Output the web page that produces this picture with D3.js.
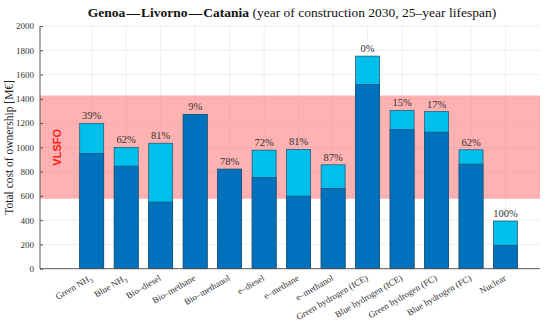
<!DOCTYPE html>
<html>
<head>
<meta charset="utf-8">
<script src="https://cdn.jsdelivr.net/npm/d3@7"></script>
<style>
  body { margin: 0; background: #fff; }
  svg text { font-family: "Liberation Serif", "DejaVu Serif", serif; }
</style>
</head>
<body>
<div id="chart"></div>
<script>
// fuels along the x axis (sub = subscript part of the label)
var categories = ["Green NH", "Blue NH", "Bio\u2013diesel", "Bio\u2013methane", "Bio\u2013methanol",
  "e\u2013diesel", "e\u2013methane", "e\u2013methanol", "Green hydrogen (ICE)", "Blue hydrogen (ICE)",
  "Green hydrogen (FC)", "Blue hydrogen (FC)", "Nuclear"];
var subscripts = ["3", "3", "", "", "", "", "", "", "", "", "", "", ""];

// lower (dark) part and total height of each bar, M€
var baseCost = [950, 845, 549, 1271, 820, 752, 598, 662, 1518, 1147, 1125, 862, 193];
var totalCost = [1197, 999, 1034, 1271, 820, 977, 983, 856, 1752, 1304, 1295, 980, 393];
var shareLabels = ["39%", "62%", "81%", "9%", "78%", "72%", "81%", "87%", "0%", "15%", "17%", "62%", "100%"];

// VLSFO reference band
var vlsfoBand = [576, 1427];
var yTicks = [0, 200, 400, 600, 800, 1000, 1200, 1400, 1600, 1800, 2000];

var W = 550, H = 322;
var margin = { top: 26, right: 10, bottom: 53, left: 40 };
var width = W - margin.left - margin.right,
    height = 268.7 - margin.top;

var svg = d3.select("#chart").append("svg")
    .attr("width", W)
    .attr("height", H);

var g = svg.append("g")
    .attr("transform", "translate(" + margin.left + "," + margin.top + ")");

var x = d3.scaleLinear().domain([-0.5, 14]).range([0, width]);
var y = d3.scaleLinear().domain([0, 2000]).range([height, 0]);
var barW = 24;

// grid
g.selectAll(".hgrid").data(yTicks.slice(1))
  .enter().append("line")
    .attr("x1", 0).attr("x2", width)
    .attr("y1", function(d) { return y(d); })
    .attr("y2", function(d) { return y(d); })
    .attr("stroke", "#ebebeb").attr("stroke-width", 0.8);

g.selectAll(".vgrid").data(categories)
  .enter().append("line")
    .attr("x1", function(d, i) { return x(i + 1); })
    .attr("x2", function(d, i) { return x(i + 1); })
    .attr("y1", 0).attr("y2", height)
    .attr("stroke", "#ebebeb").attr("stroke-width", 0.8);

// VLSFO band
g.append("rect")
    .attr("x", 0)
    .attr("width", width)
    .attr("y", y(vlsfoBand[1]))
    .attr("height", y(vlsfoBand[0]) - y(vlsfoBand[1]))
    .attr("fill", "#ff6666")
    .attr("fill-opacity", 0.5);

g.append("text")
    .attr("transform", "translate(" + (x(0) + 4) + "," + y(1000) + ") rotate(-90)")
    .attr("text-anchor", "middle")
    .style("font-family", "'Liberation Sans', Arial, sans-serif")
    .style("font-weight", "bold")
    .style("font-size", "11px")
    .attr("fill", "#ff1a1a")
    .text("VLSFO");

// bars: total (light) then base (dark)
g.selectAll(".total").data(totalCost)
  .enter().append("rect")
    .attr("class", "total")
    .attr("x", function(d, i) { return x(i + 1) - barW / 2; })
    .attr("width", barW)
    .attr("y", function(d) { return y(d); })
    .attr("height", function(d) { return height - y(d); })
    .attr("fill", "#00bfeb")
    .attr("stroke", "#1f4f6f").attr("stroke-width", 0.7);

g.selectAll(".base").data(baseCost)
  .enter().append("rect")
    .attr("class", "base")
    .attr("x", function(d, i) { return x(i + 1) - barW / 2; })
    .attr("width", barW)
    .attr("y", function(d) { return y(d); })
    .attr("height", function(d) { return height - y(d); })
    .attr("fill", "#0072bd")
    .attr("stroke", "#1f4f6f").attr("stroke-width", 0.7);

g.selectAll(".share").data(shareLabels)
  .enter().append("text")
    .attr("x", function(d, i) { return x(i + 1); })
    .attr("y", function(d, i) { return y(totalCost[i]) - 4; })
    .attr("text-anchor", "middle")
    .style("font-size", "10.5px")
    .attr("fill", "#333")
    .text(function(d) { return d; });

// axes
var yAxis = d3.axisLeft(y).tickValues(yTicks).tickFormat(d3.format("d"))
    .tickSize(-3).tickPadding(6);
var yg = g.append("g").call(yAxis);
yg.select(".domain").attr("stroke", "#555").attr("d", "M0," + height + "V0");
yg.selectAll(".tick line").attr("stroke", "#555");
yg.selectAll("text").style("font-size", "9px").attr("fill", "#333")
    .style("font-family", "'Liberation Serif', serif");

g.append("line")
    .attr("x1", 0).attr("x2", width)
    .attr("y1", height).attr("y2", height)
    .attr("stroke", "#555").attr("stroke-width", 1);

// x tick labels, rotated
var xl = g.selectAll(".xlab").data(categories)
  .enter().append("text")
    .attr("transform", function(d, i) {
      return "translate(" + (x(i + 1) + 1) + "," + (height + 11) + ") rotate(-30)";
    })
    .attr("text-anchor", "end")
    .style("font-size", "9px")
    .attr("fill", "#333");
xl.append("tspan").text(function(d) { return d; });
xl.append("tspan")
    .attr("dy", 2.5)
    .style("font-size", "6.5px")
    .text(function(d, i) { return subscripts[i]; });

// y label
svg.append("text")
    .attr("transform", "translate(13," + (margin.top + y(1000)) + ") rotate(-90)")
    .attr("text-anchor", "middle")
    .style("font-size", "11.5px")
    .attr("fill", "#222")
    .text("Total cost of ownership [M\u20ac]");

// title
var title = svg.append("text")
    .attr("x", 292)
    .attr("y", 17)
    .attr("text-anchor", "middle")
    .style("font-size", "13.5px")
    .attr("fill", "#111");
title.append("tspan").style("font-weight", "bold").text("Genoa\u200a\u2014\u200aLivorno\u200a\u2014\u200aCatania");
title.append("tspan").text(" (year of construction 2030, 25\u2013year lifespan)");
</script>
</body>
</html>
